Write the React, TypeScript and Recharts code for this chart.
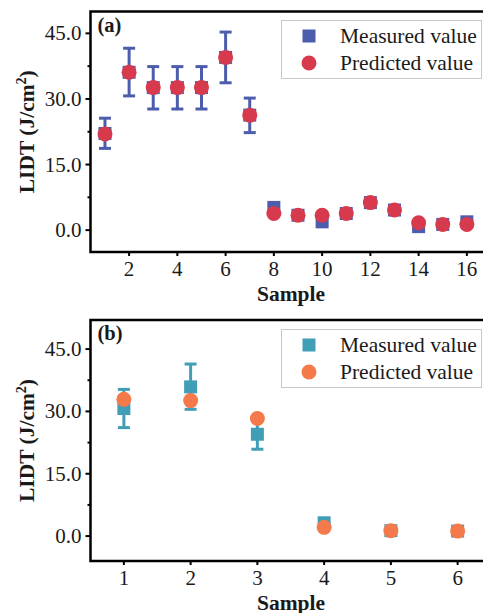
import React from 'react';
import { ScatterChart, Scatter, XAxis, YAxis, ErrorBar, ReferenceArea, Legend, Label } from 'recharts';

// panel (a): 16 samples
const samplesA = [1, 2, 3, 4, 5, 6, 7, 8, 9, 10, 11, 12, 13, 14, 15, 16];
const measuredA = [22.1, 36.1, 32.6, 32.6, 32.6, 39.5, 26.3, 5.2, 3.4, 1.9, 3.8, 6.3, 4.6, 0.8, 1.3, 1.9];
const predictedA = [22.0, 36.1, 32.6, 32.6, 32.6, 39.5, 26.3, 3.8, 3.4, 3.4, 3.8, 6.3, 4.6, 1.7, 1.3, 1.3];
const upperA = [25.6, 41.6, 37.4, 37.4, 37.4, 45.3, 30.2, 5.6, 3.8, 2.3, 4.2, 6.7, 5.0, 1.2, 1.7, 2.3];
const lowerA = [18.7, 30.7, 27.7, 27.7, 27.7, 33.7, 22.3, 4.8, 3.0, 1.5, 3.4, 5.9, 4.2, 0.4, 0.9, 1.5];
const xTicksA = [2, 4, 6, 8, 10, 12, 14, 16];

// panel (b): 6 samples
const samplesB = [1, 2, 3, 4, 5, 6];
const measuredB = [30.7, 35.9, 24.5, 3.2, 1.3, 1.2];
const predictedB = [32.9, 32.6, 28.3, 2.1, 1.3, 1.2];
const upperB = [35.3, 41.4, 28.1, 3.5, 1.6, 1.5];
const lowerB = [26.1, 30.5, 20.9, 2.9, 1.0, 0.9];
const xTicksB = [1, 2, 3, 4, 5, 6];

const yTicks = [0, 7.5, 15, 22.5, 30, 37.5, 45];

const FONT = '"Liberation Serif", "Times New Roman", serif';
const INK = '#1a1a1a';

const XTick = ({ x, y, payload }: any) => (
  <g>
    <line x1={x} x2={x} y1={y} y2={y + 4} stroke="#000" strokeWidth={2} />
    <text x={x} y={y + 24} textAnchor="middle" fontSize={21} fontFamily={FONT} fill={INK}>
      {payload.value}
    </text>
  </g>
);

const YTick = ({ x, y, payload }: any) => {
  const major = payload.value % 15 === 0;
  return (
    <g>
      <line x1={x - (major ? 5 : 3)} x2={x} y1={y} y2={y} stroke="#000" strokeWidth={2} />
      {major && (
        <text x={x - 9} y={y + 7} textAnchor="end" fontSize={21} fontFamily={FONT} fill={INK}>
          {payload.value.toFixed(1)}
        </text>
      )}
    </g>
  );
};

const square = (color: string) => (p: any) => (
  <rect x={p.cx - 6.5} y={p.cy - 6.5} width={13} height={13} fill={color} />
);
const circle = (color: string) => (p: any) => <circle cx={p.cx} cy={p.cy} r={7.5} fill={color} />;

const LegendBox = ({ measuredColor, predictedColor }: any) => (
  <svg width={201} height={60} style={{ display: 'block' }}>
    <rect x={0.5} y={0.5} width={200} height={58} fill="#fff" stroke="#c8c8c8" strokeWidth={1} />
    <rect x={21.5} y={9.5} width={13} height={13} fill={measuredColor} />
    <circle cx={28} cy={43} r={7.5} fill={predictedColor} />
    <text x={59} y={22.5} fontSize={21.5} fontFamily={FONT} fill={INK}>Measured value</text>
    <text x={59} y={49.5} fontSize={21.5} fontFamily={FONT} fill={INK}>Predicted value</text>
  </svg>
);

const Panel = ({ tag, samples, measured, predicted, upper, lower, xTicks, xDomain, yDomain, colors, height, top, xAxisHeight }: any) => {
  const measuredData = samples.map((s: number, i: number) => ({
    sample: s,
    value: measured[i],
    err: [measured[i] - lower[i], upper[i] - measured[i]],
  }));
  const predictedData = samples.map((s: number, i: number) => ({ sample: s, value: predicted[i] }));

  return (
    <ScatterChart width={491} height={height} margin={{ top, right: 0, left: 0, bottom: 0 }}>
      <XAxis
        type="number"
        dataKey="sample"
        domain={xDomain}
        ticks={xTicks}
        interval={0}
        allowDataOverflow
        axisLine={false}
        tickLine={false}
        tickSize={0}
        tickMargin={0}
        height={xAxisHeight}
        tick={<XTick />}
      >
        <Label
          content={() => (
            <text x={291} y={top + (height - top - xAxisHeight) + 49} textAnchor="middle" fontSize={21.5} fontWeight="bold" fontFamily={FONT} fill={INK}>
              Sample
            </text>
          )}
        />
      </XAxis>
      <YAxis
        type="number"
        dataKey="value"
        domain={yDomain}
        ticks={yTicks}
        interval={0}
        allowDataOverflow
        axisLine={false}
        tickLine={false}
        tickSize={0}
        tickMargin={0}
        width={90.5}
        tick={<YTick />}
      >
        <Label
          content={(props: any) => {
            const vb = props.viewBox;
            const cy = vb.y + vb.height / 2;
            return (
              <text x={33.5} y={cy} transform={`rotate(-90, 33.5, ${cy})`} textAnchor="middle" fontSize={21.5} fontWeight="bold" fontFamily={FONT} fill={INK}>
                LIDT (J/cm<tspan dy={-8} fontSize={14}>2</tspan><tspan dy={8}>)</tspan>
              </text>
            );
          }}
        />
      </YAxis>
      <ReferenceArea
        x1={xDomain[0]}
        x2={xDomain[1]}
        y1={yDomain[0]}
        y2={yDomain[1]}
        fill="none"
        stroke="#000"
        strokeWidth={2.5}
        ifOverflow="visible"
      >
        <Label
          content={(props: any) => (
            <text x={props.viewBox.x + 7} y={props.viewBox.y + 20} fontSize={20.5} fontWeight="bold" fontFamily={FONT} fill={INK}>
              {tag}
            </text>
          )}
        />
      </ReferenceArea>
      <Legend
        layout="vertical"
        align="center"
        verticalAlign="middle"
        wrapperStyle={{ top: top + 8.5, left: 280.5, width: 201, height: 60 }}
        content={() => <LegendBox measuredColor={colors[0]} predictedColor={colors[1]} />}
      />
      <Scatter name="Measured value" data={measuredData} fill={colors[0]} shape={square(colors[0])} isAnimationActive={false}>
        <ErrorBar dataKey="err" direction="y" width={6} strokeWidth={3} stroke={colors[0]} isAnimationActive={false} />
      </Scatter>
      <Scatter name="Predicted value" data={predictedData} fill={colors[1]} shape={circle(colors[1])} isAnimationActive={false} />
    </ScatterChart>
  );
};

export default function App() {
  return (
    <div style={{ position: 'absolute', left: 0, top: 0, width: 483, height: 613, overflow: 'hidden', background: '#fff' }}>
      <div style={{ position: 'absolute', left: 0, top: 0 }}>
        <Panel
          tag="(a)"
          samples={samplesA}
          measured={measuredA}
          predicted={predictedA}
          upper={upperA}
          lower={lowerA}
          xTicks={xTicksA}
          xDomain={[0.4, 17]}
          yDomain={[-5, 50]}
          colors={['#4d5dae', '#d83a4d']}
          height={310}
          top={11.5}
          xAxisHeight={58}
        />
      </div>
      <div style={{ position: 'absolute', left: 0, top: 310 }}>
        <Panel
          tag="(b)"
          samples={samplesB}
          measured={measuredB}
          predicted={predictedB}
          upper={upperB}
          lower={lowerB}
          xTicks={xTicksB}
          xDomain={[0.5, 6.5]}
          yDomain={[-6, 52]}
          colors={['#409eb7', '#f47a4b']}
          height={303}
          top={10}
          xAxisHeight={52}
        />
      </div>
    </div>
  );
}
